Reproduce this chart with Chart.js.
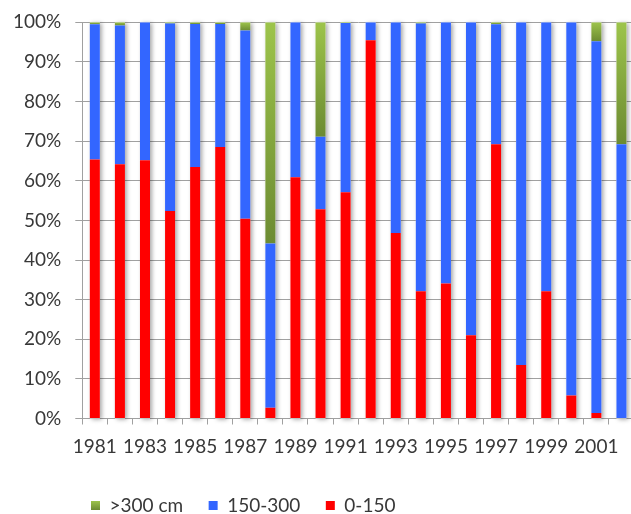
<!DOCTYPE html>
<html>
<head>
<meta charset="utf-8">
<script src="https://cdn.jsdelivr.net/npm/chart.js@4/dist/chart.umd.min.js"></script>
<style>
  html, body { margin: 0; padding: 0; background: #fff; overflow: hidden; }
  #wrap { width: 631px; height: 514px; overflow: hidden; }
  canvas { display: block; }
</style>
</head>
<body>
<div id="wrap"><canvas id="c" width="640" height="525"></canvas></div>
<script>
// Years on the category axis
const years = ['1981','1982','1983','1984','1985','1986','1987','1988','1989','1990','1991',
               '1992','1993','1994','1995','1996','1997','1998','1999','2000','2001','2002'];

// Share of each depth class per year (%)
const shallow = [65.4, 64.2, 65.2, 52.4, 63.5, 68.5, 50.4, 2.7, 60.9, 52.8, 57.1,
                 95.5, 46.8, 32.1, 34.1, 21.0, 69.2, 13.5, 32.1, 5.8, 1.4, 0];
const medium  = [34.1, 35.0, 34.8, 47.3, 36.1, 31.1, 47.5, 41.5, 39.1, 18.3, 42.7,
                 4.5, 53.2, 67.6, 65.9, 79.0, 30.3, 86.5, 67.9, 94.2, 93.8, 69.2];
const deep    = [0.5, 0.8, 0, 0.3, 0.4, 0.4, 2.1, 55.8, 0, 28.9, 0.2,
                 0, 0, 0.3, 0, 0, 0.5, 0, 0, 0, 4.8, 30.8];

// Percent ticks on the value axis
const percentTicks = [0, 10, 20, 30, 40, 50, 60, 70, 80, 90, 100];

const seriesNames = ['0-150', '150-300', '>300 cm'];

const FONT = 'Lato, "Open Sans", sans-serif';
const FONT_SIZE = 19;
const TEXT = '#383838';
const GRID = '#a0a0a0';
const GREEN_TOP = '#9dc44b';
const GREEN_BOTTOM = '#6c8b32';
const LEGEND_PAD = 25.5;

function greenGradient(ctx, top, bottom) {
  if (!isFinite(top) || !isFinite(bottom) || bottom - top < 1) return GREEN_TOP;
  const g = ctx.createLinearGradient(0, top, 0, bottom);
  g.addColorStop(0, GREEN_TOP);
  g.addColorStop(1, GREEN_BOTTOM);
  return g;
}

// Vertical light-to-dark green fill for each top segment
function greenFill(context) {
  const chart = context.chart;
  const yScale = chart.scales && chart.scales.y;
  if (!yScale || context.type !== 'data') return GREEN_TOP;
  const i = context.dataIndex;
  const top = yScale.getPixelForValue(shallow[i] + medium[i] + deep[i]);
  const bottom = yScale.getPixelForValue(shallow[i] + medium[i]);
  return greenGradient(chart.ctx, top, bottom);
}

// Soft drop shadow behind every full stacked column
const columnShadow = {
  id: 'columnShadow',
  beforeDatasetsDraw(chart) {
    const ctx = chart.ctx;
    const yScale = chart.scales.y;
    const metaBottom = chart.getDatasetMeta(0);
    ctx.save();
    ctx.shadowColor = 'rgba(0,0,0,0.35)';
    ctx.shadowBlur = 4;
    ctx.shadowOffsetX = 2;
    ctx.shadowOffsetY = 1;
    ctx.fillStyle = '#ffffff';
    metaBottom.data.forEach((bar, i) => {
      const total = shallow[i] + medium[i] + deep[i];
      const top = yScale.getPixelForValue(total);
      const base = yScale.getPixelForValue(0);
      const w = bar.width;
      ctx.fillRect(bar.x - w / 2, top, w, base - top);
    });
    ctx.restore();
  }
};

// Pull the legend row toward the value axis while keeping wide gaps between items
const legendOffset = {
  id: 'legendOffset',
  afterLayout(chart) {
    const lg = chart.legend;
    if (!lg) return;
    lg.left -= 16.8;
    lg.right -= 16.8;
  }
};

new Chart(document.getElementById('c'), {
  type: 'bar',
  data: {
    labels: years,
    datasets: [
      { label: seriesNames[0], data: shallow, backgroundColor: '#ff0000' },
      { label: seriesNames[1], data: medium,  backgroundColor: '#3366ff' },
      { label: seriesNames[2], data: deep,    backgroundColor: greenFill }
    ]
  },
  options: {
    responsive: false,
    animation: false,
    devicePixelRatio: 1,
    layout: { padding: { top: 22.3, right: 6, left: 0, bottom: 0 } },
    datasets: {
      bar: { categoryPercentage: 1.0, barPercentage: 0.4, borderWidth: 0 }
    },
    scales: {
      x: {
        stacked: true,
        afterFit(scale) { scale.height = 52; },
        border: { color: GRID, width: 1 },
        grid: { offset: true, drawOnChartArea: false, drawTicks: true, tickLength: 6, color: GRID },
        ticks: {
          autoSkip: false,
          maxRotation: 0,
          padding: 11,
          color: TEXT,
          font: { family: FONT, size: FONT_SIZE },
          callback(value, index) { return index % 2 === 0 ? years[index] : ''; }
        }
      },
      y: {
        stacked: true,
        min: percentTicks[0],
        max: percentTicks[percentTicks.length - 1],
        afterFit(scale) {
          scale.width = 82.3;
          scale.paddingTop = 0;
          scale.paddingBottom = 0;
        },
        afterBuildTicks(scale) { scale.ticks = percentTicks.map(v => ({ value: v })); },
        border: { color: GRID, width: 1 },
        grid: { color: GRID, lineWidth: 1, tickLength: 7 },
        ticks: {
          padding: 14,
          color: TEXT,
          font: { family: FONT, size: FONT_SIZE },
          callback(value) { return value + '%'; }
        }
      }
    },
    plugins: {
      tooltip: { enabled: false },
      legend: {
        position: 'bottom',
        align: 'start',
        fullSize: false,
        reverse: true,
        labels: {
          boxWidth: 9,
          boxHeight: 9,
          padding: LEGEND_PAD,
          color: TEXT,
          font: { family: FONT, size: FONT_SIZE },
          generateLabels(chart) {
            const items = Chart.defaults.plugins.legend.labels.generateLabels(chart);
            const lg = chart.legend;
            const top = lg && isFinite(lg.top) ? lg.top + LEGEND_PAD + 5 : NaN;
            items.forEach(item => {
              if (item.datasetIndex === 2) {
                item.fillStyle = greenGradient(chart.ctx, top, top + 9);
              }
              item.lineWidth = 0;
            });
            return items;
          }
        }
      }
    }
  },
  plugins: [columnShadow, legendOffset]
});
</script>
</body>
</html>
